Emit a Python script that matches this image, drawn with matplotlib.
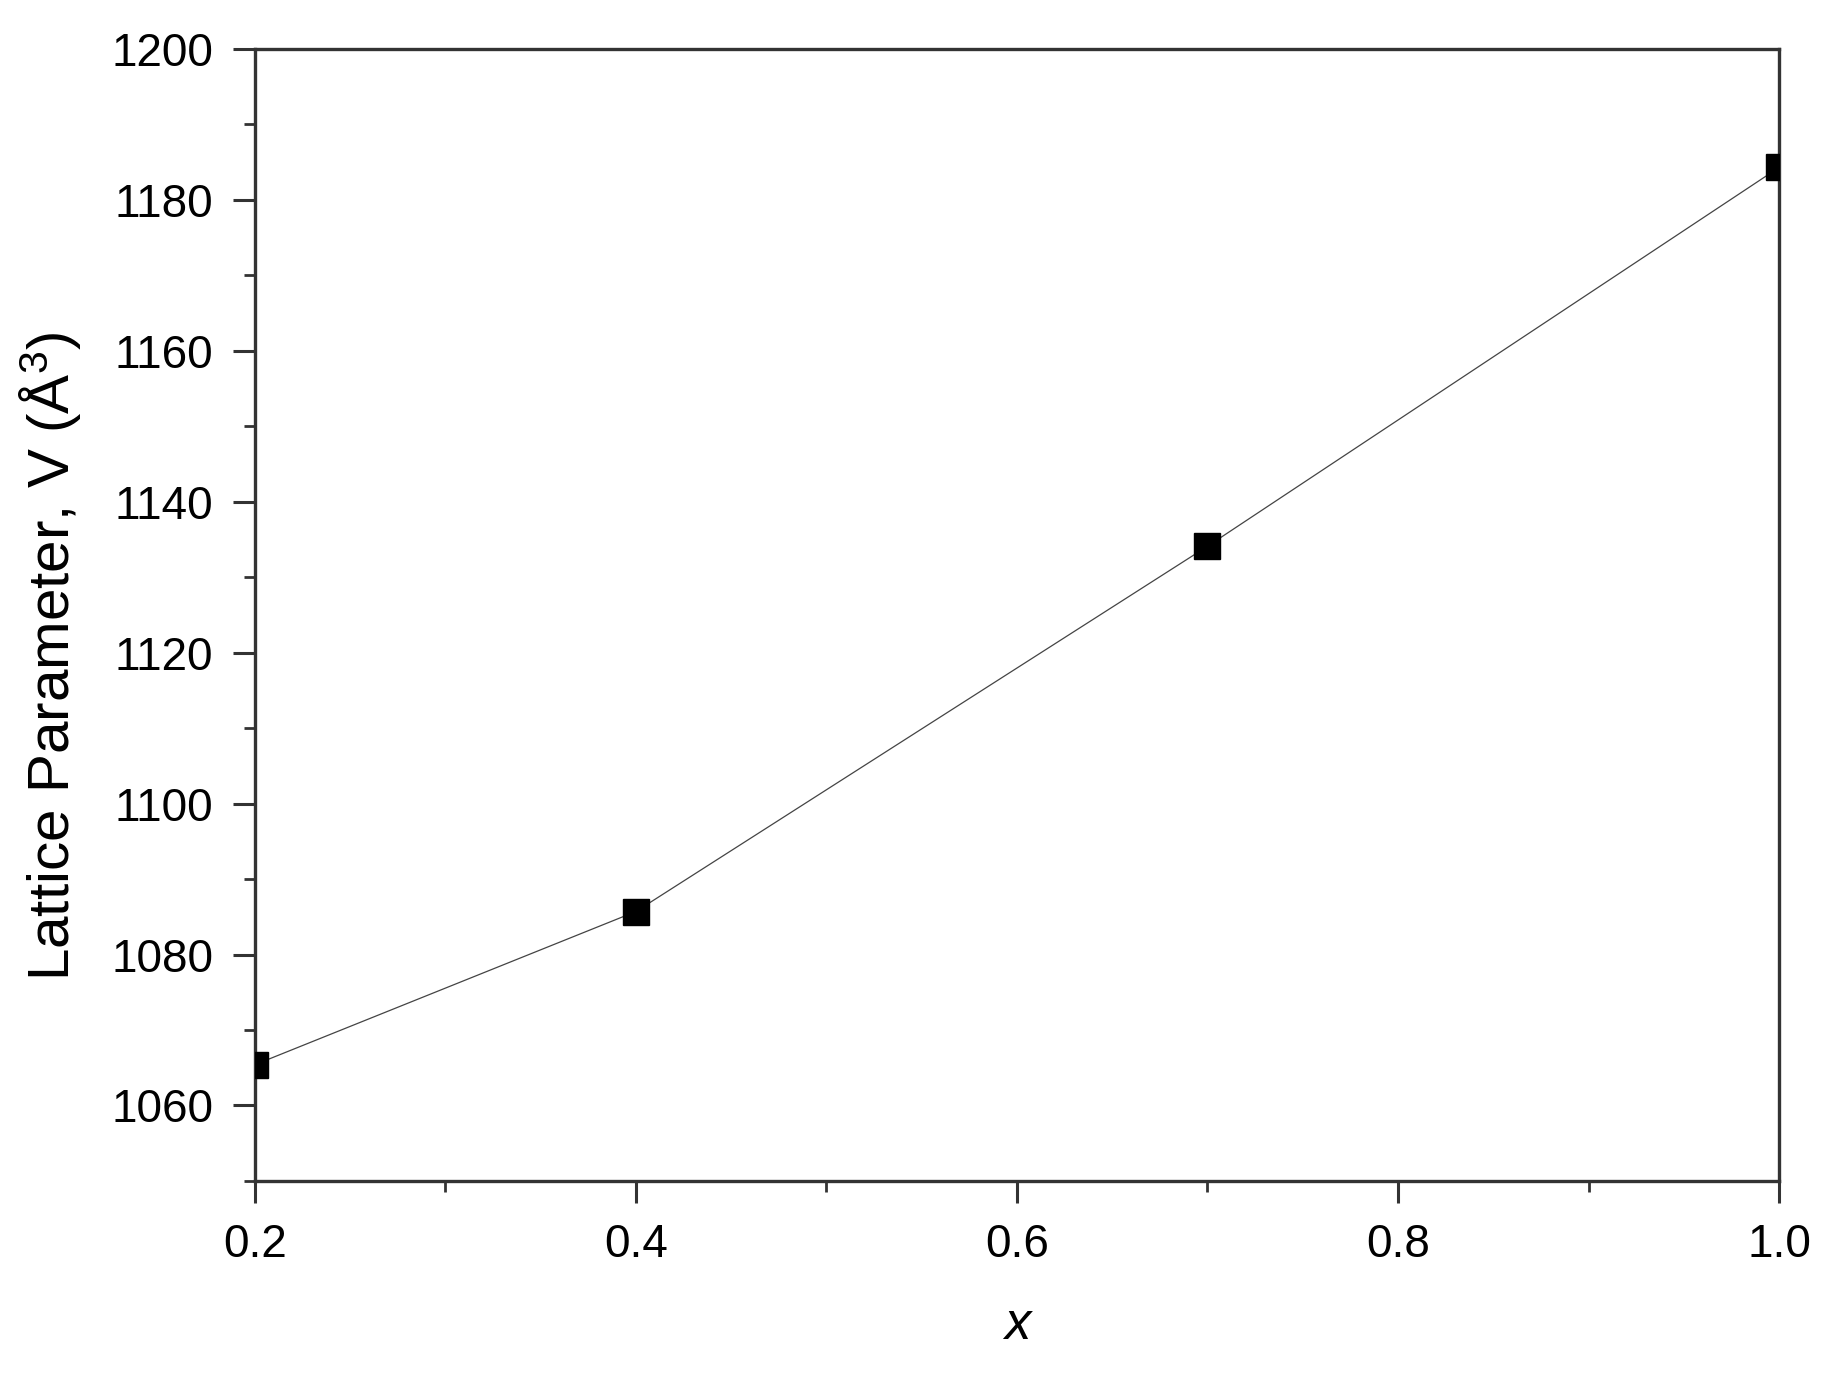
import matplotlib
matplotlib.use('Agg')
import matplotlib.pyplot as plt
from matplotlib.ticker import MultipleLocator

# composition and cell volume
x_vals = [0.2, 0.4, 0.7, 1.0]
volume = [1065.4, 1085.7, 1134.1, 1184.3]

x_ticks = [0.2, 0.4, 0.6, 0.8, 1.0]
y_ticks = [1060, 1080, 1100, 1120, 1140, 1160, 1180, 1200]

plt.rcParams['font.family'] = ['Liberation Sans', 'DejaVu Sans']
plt.rcParams['mathtext.fontset'] = 'custom'
plt.rcParams['mathtext.rm'] = 'Liberation Sans'
plt.rcParams['mathtext.it'] = 'Liberation Sans:italic'

fig = plt.figure(figsize=(18.33, 13.91), dpi=100)
ax = fig.add_axes([0.139, 0.151, 0.8316, 0.8138])

ax.plot(x_vals, volume, color='#444444', lw=0.9, zorder=2)
ax.plot(x_vals, volume, ls='none', marker='s', ms=19, color='black', zorder=3)

ax.set_xlim(0.2, 1.0)
ax.set_ylim(1050, 1200)
ax.set_xticks(x_ticks)
ax.set_xticklabels(['%.1f' % t for t in x_ticks])
ax.set_yticks(y_ticks)
ax.xaxis.set_minor_locator(MultipleLocator(0.1))
ax.yaxis.set_minor_locator(MultipleLocator(10))

ax.tick_params(which='major', direction='out', length=16, width=2.2, labelsize=33,
               color='#333333', pad=14)
ax.tick_params(which='minor', direction='out', length=8, width=2.0, color='#333333')
ax.tick_params(top=False, right=False)

for s in ax.spines.values():
    s.set_linewidth(2.4)
    s.set_color('#333333')

ax.set_xlabel('x', fontsize=38, style='italic', labelpad=24)
ax.set_ylabel(r'Lattice Parameter, V (Å$^3$)', fontsize=42)
ax.yaxis.set_label_coords(-0.113, 0.463)

fig.savefig('out.png', dpi=100, facecolor='white')
